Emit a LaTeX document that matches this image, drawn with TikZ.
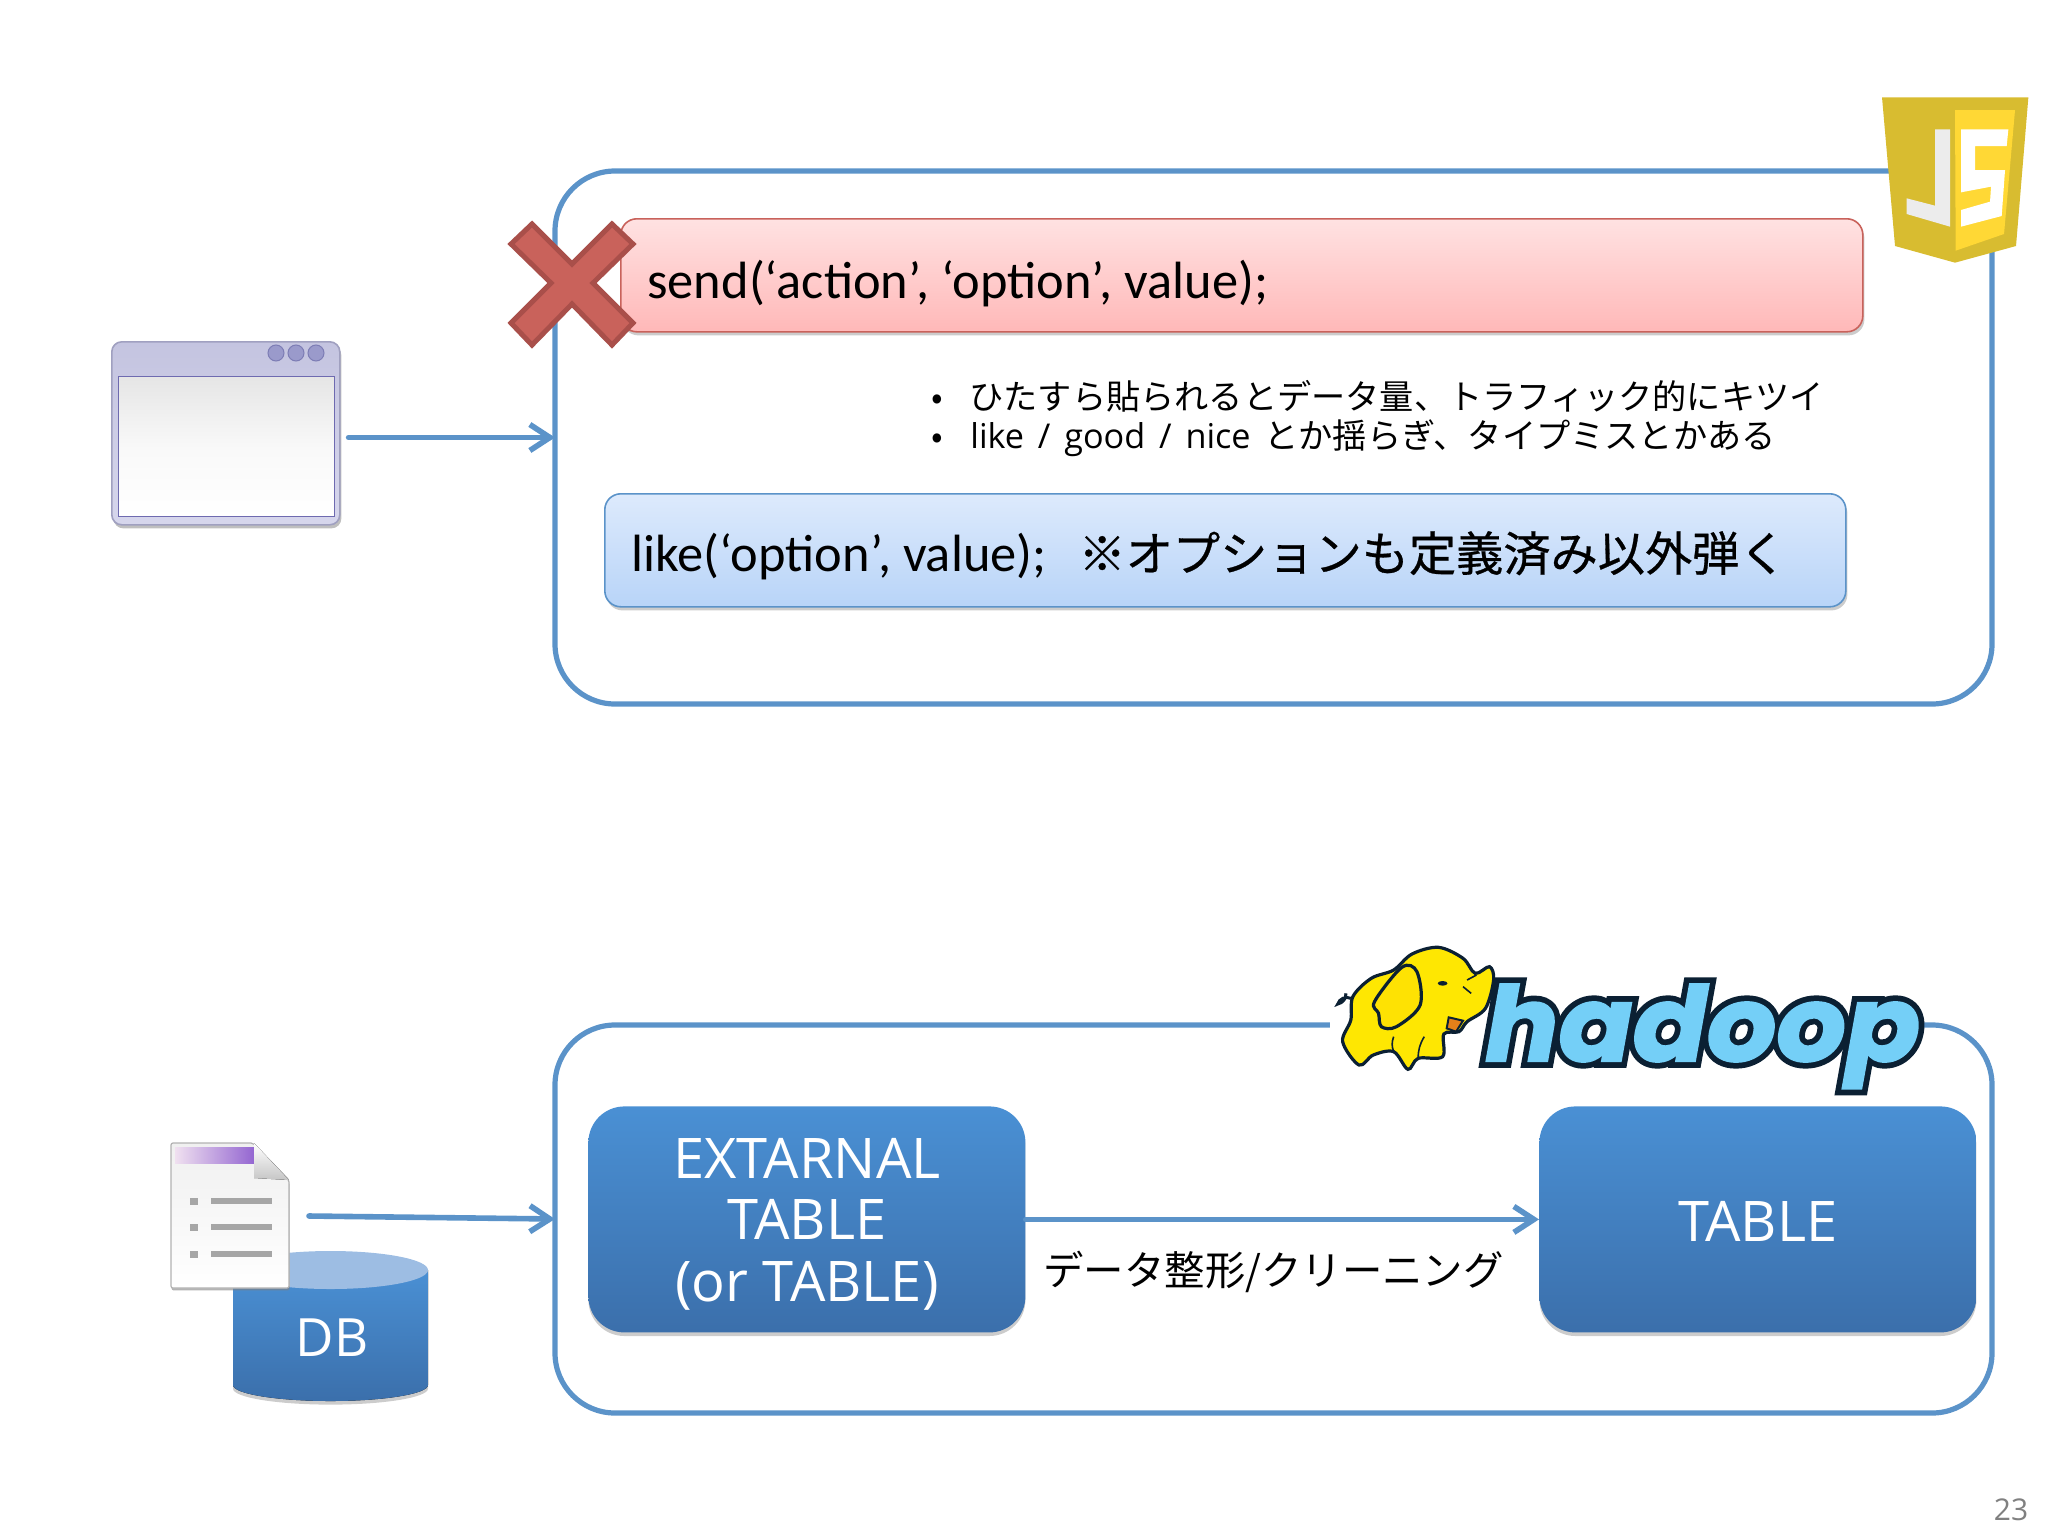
\documentclass[tikz,border=0pt]{standalone}
\usepackage{fontspec}
\setmainfont{Carlito}
\newfontfamily\jpfont{Noto Sans CJK JP}
\newfontfamily\jpheavy[FakeBold=0.6]{Noto Sans CJK JP}
\newfontfamily\labelfont{Open Sans}
\newfontfamily\hadoopfont[FakeSlant=0.18,FakeStretch=1.05,FakeBold=2]{Poppins}
\newfontfamily\hadoopback[FakeSlant=0.18,FakeStretch=1.05,FakeBold=13]{Poppins}
\usetikzlibrary{arrows.meta,shadows}
\definecolor{linkblue}{HTML}{5B93C9}
\definecolor{jsdark}{HTML}{D8BC30}
\definecolor{jslight}{HTML}{FFD835}
\definecolor{hadoopink}{HTML}{0B2033}
\definecolor{hadoopsky}{HTML}{74CFF7}
\definecolor{boxtop}{HTML}{4A90D4}
\definecolor{boxbottom}{HTML}{3B6FAB}
\definecolor{dblid}{HTML}{9DBDE3}
\definecolor{crossfill}{HTML}{C9625B}
\definecolor{crossedge}{HTML}{A94F4A}
\definecolor{liketop}{HTML}{DDEAFC}
\definecolor{likebottom}{HTML}{B8D4F8}
\definecolor{sendtop}{HTML}{FFE2E2}
\definecolor{sendbottom}{HTML}{FFB8B8}
\definecolor{wintop}{HTML}{C4C4E0}
\definecolor{winbottom}{HTML}{D6D6EC}
\definecolor{winedge}{HTML}{A0A0C0}
\definecolor{winbody}{HTML}{6E6AB0}
\definecolor{winbutton}{HTML}{9A9ACB}
\definecolor{winbuttonedge}{HTML}{7D7DB5}
\tikzset{
  frame/.style={draw=linkblue,line width=2.6pt,rounded corners=30pt,anchor=north west,inner sep=0pt},
  flow/.style={draw=linkblue,line width=2.8pt,line cap=round,-{Straight Barb[length=10pt,width=13pt,line width=2.8pt]}},
  codebox/.style={rounded corners=8pt,line width=0.8pt,anchor=north west,inner sep=0pt,
    minimum height=56.5pt,drop shadow={shadow xshift=0.8pt,shadow yshift=-1.8pt,opacity=0.4}},
  sendbox/.style={codebox,draw=crossfill,top color=sendtop,bottom color=sendbottom,minimum width=621pt},
  likebox/.style={codebox,draw=linkblue,top color=liketop,bottom color=likebottom,minimum width=620.5pt},
  bluebox/.style={rounded corners=18pt,anchor=north west,inner sep=0pt,minimum height=113pt,minimum width=218.5pt,
    top color=boxtop,bottom color=boxbottom,
    text=white,font=\labelfont\fontsize{28}{30.7}\selectfont,align=center,
    drop shadow={shadow xshift=0pt,shadow yshift=-1.8pt,opacity=0.4}},
  codetext/.style={anchor=base west,inner sep=0pt,font=\fontsize{26.2}{30}\selectfont},
  notetext/.style={anchor=base west,inner sep=0pt,font=\jpfont\fontsize{17.1}{20}\selectfont},
}
\begin{document}
\begin{tikzpicture}[x=0.5pt,y=-0.5pt]
\useasboundingbox (0,0) rectangle (2048,1536);
% upper half
\node[frame,minimum width=718.5pt,minimum height=266.5pt] (jsframe) at (552.4,168.4) {};
% browser window
\node[anchor=north west,draw=winedge,top color=wintop,bottom color=winbottom,
  rounded corners=5pt,line width=0.8pt,minimum width=114pt,minimum height=91.5pt,inner sep=0pt,
  drop shadow={shadow xshift=0.8pt,shadow yshift=-1.8pt,opacity=0.5}] (browser) at (111,341) {};
\node[anchor=north west,draw=winbody,top color=gray!20,bottom color=white,middle color=gray!5,line width=0.7pt,
  minimum width=108pt,minimum height=70pt,inner sep=0pt] (browserbody) at (118,376) {};
\foreach \cx in {276,296,316}
  \fill[draw=winbuttonedge,fill=winbutton,line width=0.5pt] (\cx,353) circle (8);
\coordinate (browsertail) at ([xshift=4pt]browser.east |- jsframe.west);
\coordinate (browserhead) at ([xshift=1.3pt]jsframe.west);
\draw[flow] (browsertail) -- (browserhead);
% send box
\node[sendbox] (sendcall) at (620,218) {};
\node[codetext] (sendtext) at (647,298) {send(‘action’, ‘option’, value);};
\fill[fill=crossfill,draw=crossedge,line width=2.5pt]
  (532,224) -- (572,264) -- (612,224) -- (633,244) -- (593,283) -- (633,323) -- (612,345)
  -- (572,304) -- (532,345) -- (511,323) -- (551,283) -- (511,244) -- cycle;
% notes
\node[notetext] (noteone) at (969,409) {ひたすら貼られるとデータ量、トラフィック的にキツイ};
\node[notetext] (notetwo) at (970,448) {{\labelfont\spaceskip=6.9pt like / good / nice }とか揺らぎ、タイプミスとかある};
\node[notetext,anchor=base] (bulletone) at (937,409) {•};
\node[notetext,anchor=base] (bullettwo) at (937,448) {•};
% like box
\node[likebox] (likecall) at (604,493) {};
\node[codetext] (liketext) at (631,571) {like(‘option’, value);\hspace{16pt}{\jpheavy\fontsize{23.6}{30}\selectfont ※オプションも定義済み以外弾く}};
% JS shield
\begin{scope}[shift={(1800,60)},x=0.16667pt,y=-0.16667pt]
\fill[jsdark] (246,112) -- (685,112) -- (648,558) -- (465,608) -- (285,558) -- cycle;
\fill[jslight] (465,150) -- (645,150) -- (612,522) -- (467,572) -- cycle;
\fill[gray!15] (405,208) -- (450,208) -- (450,500) -- (320,462) -- (320,415) -- (405,437) -- cycle;
\fill[white] (483,208) -- (625,208) -- (620,258) -- (525,258) -- (525,330) -- (615,330) -- (605,468)
  -- (483,500) -- (483,450) -- (570,425) -- (573,380) -- (483,397) -- cycle;
\end{scope}
% lower half
\node[frame,minimum width=718.5pt,minimum height=194pt] (hadoopframe) at (552.4,1022.4) {};
\fill[white] (1330,1010) rectangle (1922,1040);
\begin{scope}[shift={(1310,930)},x=0.204pt,y=-0.16667pt]
\node[anchor=base west,inner sep=0pt,text=hadoopink,font=\hadoopback\bfseries\fontsize{52}{52}\selectfont] (hadoopshade) at (415,393) {hadoop};
\node[anchor=base west,inner sep=0pt,text=hadoopsky,font=\hadoopfont\bfseries\fontsize{52}{52}\selectfont] (hadooptext) at (415,393) {hadoop};
% elephant
\draw[hadoopink,line width=1.5pt] (88,190) to[bend left=40] (68,222) to[bend left=50] (100,205);
\fill[draw=hadoopink,line width=1.6pt,fill=yellow!90!orange] plot[smooth cycle,tension=0.55] coordinates
  {(105,200) (150,145) (205,120) (250,72) (315,52) (375,85) (405,130) (440,110) (450,150) (430,235) (385,275)
   (365,305) (328,312) (325,380) (265,385) (240,418) (205,365) (155,375) (120,405) (80,335) (100,270)};
\fill[draw=hadoopink,line width=1.6pt,fill=yellow!85!orange] plot[smooth cycle,tension=0.55] coordinates
  {(158,215) (225,112) (262,125) (270,225) (212,290) (175,290) (168,250)};
\fill[hadoopink] (325,160) ellipse (12 and 7);
\fill[draw=hadoopink,line width=1pt,fill=orange!60!brown] (340,262) -- (375,272) -- (358,305) -- (335,295) -- cycle;
\draw[hadoopink,line width=0.8pt] (385,150) -- (408,135) (375,170) -- (395,190) (205,365) to[bend left=20] (205,320)
  (265,385) to[bend left=15] (280,320);
\end{scope}
% external table and table
\node[bluebox] (exttable) at (588,1106) {\rule{0pt}{25pt}EXTARNAL\\TABLE\\(or TABLE)};
\node[bluebox] (hivetable) at (1539,1106) {\rule{0pt}{22pt}TABLE};
\draw[flow] (exttable.east) -- (hivetable.west);
\node[anchor=base west,inner sep=0pt,font=\jpfont\fontsize{20.2}{24}\selectfont] (cleanlabel) at (1043,1285) {データ整形/クリーニング};
% db with file
\fill[top color=boxtop,bottom color=boxbottom,
  drop shadow={shadow xshift=0pt,shadow yshift=-1.8pt,opacity=0.4}]
  (233,1270) arc[start angle=180,end angle=360,x radius=97.5,y radius=-18] -- (428,1385)
  arc[start angle=0,end angle=-180,x radius=97.5,y radius=-16] -- cycle;
\fill[dblid] (330.5,1270) ellipse (97.5 and 19);
\node[anchor=center,inner sep=0pt,text=white,font=\labelfont\fontsize{26.4}{28}\selectfont] (dblabel) at (332,1338) {DB};
\filldraw[draw=gray!60,fill=white,top color=gray!12,bottom color=white,line width=0.6pt,rounded corners=1pt,
  drop shadow={shadow xshift=0.3pt,shadow yshift=-1.2pt,opacity=0.6}]
  (171,1143) -- (253,1143) -- (289,1180) -- (289,1288) -- (171,1288) -- cycle;
\fill[left color=violet!12,right color=violet!60!blue!60!white] (175,1147) rectangle (254,1163);
\fill[top color=white,bottom color=gray!45] (254,1143) -- (254,1178) -- (289,1180) -- cycle;
\foreach \ly in {1201,1227,1254} {
  \fill[gray!70] (190,\ly-3) rectangle (198,\ly+4);
  \fill[gray!70] (211,\ly-3) rectangle (272,\ly+3);
}
\coordinate (filetail) at (309,1216);
\coordinate (filehead) at ([xshift=1.3pt]hadoopframe.west);
\draw[flow] (filetail) -- (filehead);
% page number
\node[anchor=center,inner sep=0pt,text=gray,font=\labelfont\fontsize{15}{18}\selectfont] (pagenum) at (2011,1510) {23};
\end{tikzpicture}
\end{document}
